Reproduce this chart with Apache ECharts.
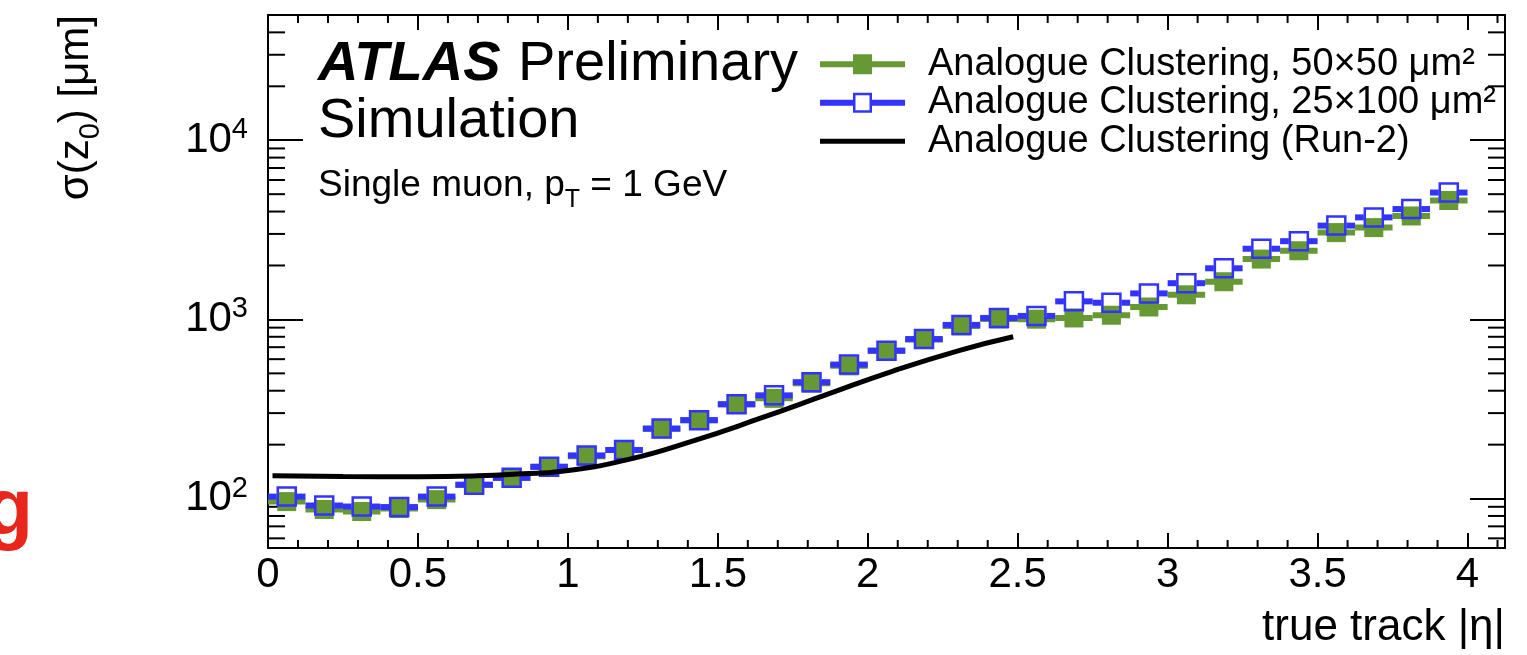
<!DOCTYPE html>
<html><head><meta charset="utf-8">
<script src="https://cdn.jsdelivr.net/npm/echarts@6/dist/echarts.min.js"></script>
<style>html,body{margin:0;padding:0;background:#fff}#c{width:1527px;height:655px}</style>
</head><body><div id="c"></div>
<script>
// ---------------- data ----------------
const etaCenters = [0.0625,0.1875,0.3125,0.4375,0.5625,0.6875,0.8125,0.9375,1.0625,1.1875,1.3125,1.4375,1.5625,1.6875,1.8125,1.9375,2.0625,2.1875,2.3125,2.4375,2.5625,2.6875,2.8125,2.9375,3.0625,3.1875,3.3125,3.4375,3.5625,3.6875,3.8125,3.9375];
const sigma50x50 = [96.2,86.9,84.7,88.0,98.7,119,130.2,150.4,172.4,186.8,245.2,274,336,362.7,441,550.5,668,773,920,1006,1003,1019,1055,1173,1372,1623,2171,2417,3052,3254,3778,4610];
const sigma25x100 = [102.6,91.5,90.3,89.7,102.6,119.6,130.7,150.4,174.2,186.8,245.8,274,336,376.9,446.5,559.7,669,776.8,932,1019,1046,1261,1239,1397,1593,1929,2480,2733,3338,3711,4131,5105];
const run2Eta = [0.015,0.25,0.5,0.7,0.85,0.973,1.196,1.418,1.64,1.862,2.084,2.307,2.485];
const run2Sigma = [134,133,132.5,134,137.5,141.6,164.5,210,280,380,515,672,800];
const binHalfWidth = 0.0625;
const xMinorTicks = [0.1,0.2,0.3,0.4,0.6,0.7,0.8,0.9,1.1,1.2,1.3,1.4,1.6,1.7,1.8,1.9,2.1,2.2,2.3,2.4,2.6,2.7,2.8,2.9,3.1,3.2,3.3,3.4,3.6,3.7,3.8,3.9,4.1];
const yMinorTicks = [60,70,80,90,200,300,400,500,600,700,800,900,2000,3000,4000,5000,6000,7000,8000,9000,20000,30000,40000];
const seriesNames = ['Analogue Clustering, 50×50 μm²','Analogue Clustering, 25×100 μm²','Analogue Clustering (Run-2)'];

// ---------------- style ----------------
const FONT = '"Liberation Sans", Arial, Helvetica, sans-serif';
const GREEN = '#669933', BLUE = '#3333ff';
const X_MIN = 0, X_MAX = 4.125, Y_MIN = 53, Y_MAX = 50000;

const pts50 = etaCenters.map((x,i)=>[x, sigma50x50[i]]);
const pts25 = etaCenters.map((x,i)=>[x, sigma25x100[i]]);
const run2 = run2Eta.map((x,i)=>[x, run2Sigma[i]]);

function barRenderer(color, gap){
  return function(params, api){
    const x = api.value(0), y = api.value(1);
    const c = api.coord([x,y]);
    const l = api.coord([x-binHalfWidth,y]);
    const r = api.coord([x+binHalfWidth,y]);
    const st = {stroke:color, lineWidth:6};
    if(!gap) return {type:'line', shape:{x1:l[0],y1:c[1],x2:r[0],y2:c[1]}, style:st};
    return {type:'group', children:[
      {type:'line', shape:{x1:l[0],y1:c[1],x2:c[0]-gap,y2:c[1]}, style:st},
      {type:'line', shape:{x1:c[0]+gap,y1:c[1],x2:r[0],y2:c[1]}, style:st}
    ]};
  };
}
function xMinorRenderer(params, api){
  const cs = params.coordSys;
  const px = api.coord([api.value(0), api.value(1)])[0];
  const b = cs.y + cs.height, t = cs.y;
  const st = {stroke:'#000', lineWidth:2};
  return {type:'group', children:[
    {type:'line', shape:{x1:px,y1:b,x2:px,y2:b-8}, style:st},
    {type:'line', shape:{x1:px,y1:t,x2:px,y2:t+8}, style:st}
  ]};
}
function yMinorRenderer(params, api){
  const cs = params.coordSys;
  const py = api.coord([api.value(0), api.value(1)])[1];
  const l = cs.x, r = cs.x + cs.width;
  const st = {stroke:'#000', lineWidth:2};
  return {type:'group', children:[
    {type:'line', shape:{x1:l,y1:py,x2:l+17,y2:py}, style:st},
    {type:'line', shape:{x1:r,y1:py,x2:r-17,y2:py}, style:st}
  ]};
}
function powLabel(v){
  const e = Math.log10(v), r = Math.round(e);
  if (Math.abs(e-r) > 1e-6) return '';
  return '{b|10}{s|' + r + '}';
}

const axisX = {type:'value', min:X_MIN, max:X_MAX, interval:0.5,
  axisLine:{show:true, onZero:false, lineStyle:{color:'#000', width:2}},
  axisTick:{show:true, inside:true, length:15, lineStyle:{color:'#000', width:2}},
  minorTick:{show:false}, splitLine:{show:false}};
const axisY = {type:'log', logBase:10, min:Y_MIN, max:Y_MAX,
  axisLine:{show:true, onZero:false, lineStyle:{color:'#000', width:2}},
  axisTick:{show:true, inside:true, length:35, lineStyle:{color:'#000', width:2}},
  minorTick:{show:false}, splitLine:{show:false}};

const greenIcon = 'path://M0,7 L85,7 L85,13 L0,13 Z M33,0 L52,0 L52,20 L33,20 Z';
const blueIcon = 'path://M0,7 L33,7 L33,13 L0,13 Z M52,7 L85,7 L85,13 L52,13 Z M33,0 L52,0 L52,20 L33,20 Z M35.5,2.5 L35.5,17.5 L49.5,17.5 L49.5,2.5 Z';
const blackIcon = 'path://M0,7.5 L85,7.5 L85,12.5 L0,12.5 Z';

const subRich = function(mainSize, subSize, drop){
  return {
    n:{fontSize:mainSize, fontFamily:FONT, color:'#000', verticalAlign:'middle'},
    t:{fontSize:subSize, fontFamily:FONT, color:'#000', verticalAlign:'middle', padding:[drop,0,0,0]}
  };
};

const option = {
  animation:false,
  backgroundColor:'#fff',
  grid:{left:268, right:22, top:15, bottom:107, containLabel:false},
  xAxis:[
    Object.assign({}, axisX, {position:'bottom', axisLabel:{show:true, fontSize:42, color:'#000', fontFamily:FONT, margin:6, showMaxLabel:false}}),
    Object.assign({}, axisX, {position:'top', axisLabel:{show:false}})
  ],
  yAxis:[
    Object.assign({}, axisY, {position:'left', axisLabel:{show:true, formatter:powLabel, margin:20, color:'#000', fontFamily:FONT,
      showMinLabel:false, showMaxLabel:false,
      rich:{b:{fontSize:42, fontFamily:FONT, color:'#000'}, s:{fontSize:29, fontFamily:FONT, color:'#000', padding:[0,0,20,0]}}}}),
    Object.assign({}, axisY, {position:'right', axisLabel:{show:false}})
  ],
  legend:{
    left:815, top:40, orient:'vertical', itemWidth:85, itemHeight:20, itemGap:0, selectedMode:false,
    textStyle:{fontSize:38, fontFamily:FONT, color:'#000', lineHeight:38.5, padding:[0,0,0,18]},
    data:[
      {name:seriesNames[0], icon:greenIcon, itemStyle:{color:GREEN, borderWidth:0}},
      {name:seriesNames[1], icon:blueIcon, itemStyle:{color:BLUE, borderWidth:0}},
      {name:seriesNames[2], icon:blackIcon, itemStyle:{color:'#000', borderWidth:0}}
    ]
  },
  graphic:[
    {type:'text', x:318, y:65, style:{text:'ATLAS', font:'italic bold 56px '+FONT, fill:'#000', align:'left', verticalAlign:'middle', textAlign:'left', textVerticalAlign:'middle'}},
    {type:'text', x:518, y:65, style:{text:'Preliminary', font:'56px '+FONT, fill:'#000', align:'left', verticalAlign:'middle', textAlign:'left', textVerticalAlign:'middle'}},
    {type:'text', x:318, y:122, style:{text:'Simulation', font:'56px '+FONT, fill:'#000', align:'left', verticalAlign:'middle', textAlign:'left', textVerticalAlign:'middle'}},
    {type:'text', x:318, y:186, style:{text:'{n|Single muon, p}{t|T}{n| = 1 GeV}', fill:'#000', align:'left', verticalAlign:'middle', textAlign:'left', textVerticalAlign:'middle',
      rich:subRich(37, 25, 28)}},
    {type:'text', x:1505, y:628, style:{text:'true track |η|', font:'44px '+FONT, fill:'#000', align:'right', verticalAlign:'middle', textAlign:'right', textVerticalAlign:'middle'}},
    {type:'text', x:76, y:15, rotation:Math.PI/2, style:{text:'{n|σ(z}{t|0}{n|) [μm]}', fill:'#000', align:'right', verticalAlign:'middle', textAlign:'right', textVerticalAlign:'middle',
      rich:subRich(42, 29, 30)}},
    {type:'text', x:33, y:512, style:{text:'g', font:'bold 80px '+FONT, fill:'#e8261c', align:'right', verticalAlign:'middle', textAlign:'right', textVerticalAlign:'middle'}}
  ],
  series:[
    {type:'custom', name:'xMinorTicks', data:xMinorTicks.map(v=>[v,100]), renderItem:xMinorRenderer, silent:true, z:1},
    {type:'custom', name:'yMinorTicks', data:yMinorTicks.map(v=>[1,v]), renderItem:yMinorRenderer, silent:true, z:1},
    {type:'custom', name:seriesNames[0], data:pts50, renderItem:barRenderer(GREEN,0), silent:true, z:2},
    {type:'scatter', name:seriesNames[0], data:pts50, symbol:'rect', symbolSize:19, itemStyle:{color:GREEN, opacity:1}, silent:true, z:3},
    {type:'custom', name:seriesNames[1], data:pts25, renderItem:barRenderer(BLUE,10), silent:true, z:4},
    {type:'scatter', name:seriesNames[1], data:pts25, symbol:'rect', symbolSize:18, itemStyle:{color:'rgba(0,0,0,0)', borderColor:BLUE, borderWidth:2.5, opacity:1}, silent:true, z:5},
    {type:'line', name:seriesNames[2], data:run2, smooth:0.5, symbol:'none', lineStyle:{color:'#000', width:5}, itemStyle:{color:'#000'}, silent:true, z:6}
  ]
};
const chart = echarts.init(document.getElementById('c'), null, {renderer:'canvas'});
chart.setOption(option);
</script>
</body></html>
